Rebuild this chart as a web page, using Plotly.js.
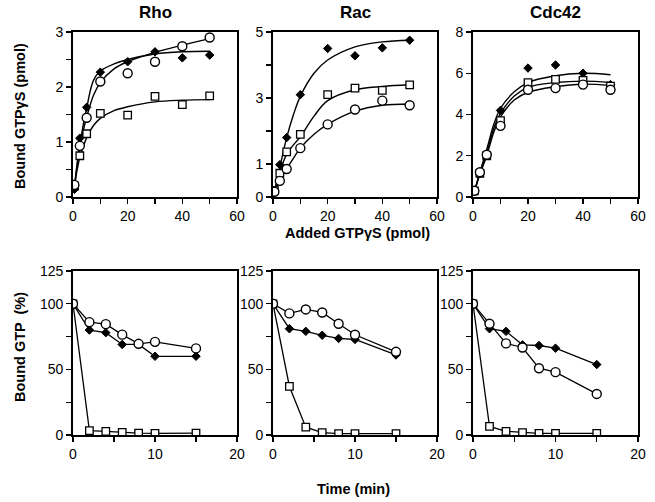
<!DOCTYPE html>
<html>
<head>
<meta charset="utf-8">
<script src="https://cdn.plot.ly/plotly-3.0.1.min.js"></script>
<style>html,body{margin:0;padding:0;background:#fff;}#chart{width:655px;height:502px;}</style>
</head>
<body>
<div id="chart"></div>
<script>
// ---------- data ----------
const panelTitles = ["Rho", "Rac", "Cdc42"];

// Top row: bound GTPγS (pmol) vs added GTPγS (pmol)
const addedX = [0.5, 2.5, 5, 10, 20, 30, 40, 50];
const rhoDiamond = [0.14, 1.07, 1.63, 2.27, 2.46, 2.64, 2.53, 2.58];
const rhoCircle  = [0.22, 0.93, 1.44, 2.10, 2.25, 2.46, 2.74, 2.90];
const rhoSquare  = [0.20, 0.75, 1.15, 1.52, 1.49, 1.83, 1.68, 1.84];
const racDiamond = [0.20, 0.98, 1.80, 3.10, 4.50, 4.28, 4.52, 4.75];
const racSquare  = [0.20, 0.72, 1.37, 1.90, 3.10, 3.30, 3.23, 3.40];
const racCircle  = [0.16, 0.49, 0.85, 1.48, 2.20, 2.65, 2.92, 2.78];
const cdcDiamond = [0.30, 1.15, 2.05, 4.20, 6.25, 6.40, 6.00, 5.45];
const cdcSquare  = [0.30, 1.15, 2.00, 3.70, 5.55, 5.70, 5.65, 5.38];
const cdcCircle  = [0.30, 1.20, 2.05, 3.45, 5.20, 5.28, 5.45, 5.20];

// fitted curves
const curveX = [0.5, 2.5, 5, 7.5, 10, 15, 20, 30, 40, 50];
const rhoDiamondFit = [0.12, 0.95, 1.62, 2.12, 2.29, 2.42, 2.50, 2.60, 2.64, 2.65];
const rhoCircleFit  = [0.20, 0.92, 1.45, 1.85, 2.08, 2.33, 2.46, 2.63, 2.76, 2.88];
const rhoSquareFit  = [0.20, 0.72, 1.08, 1.30, 1.43, 1.57, 1.64, 1.73, 1.76, 1.77];
const racDiamondFit = [0.15, 0.90, 1.80, 2.50, 3.05, 3.75, 4.15, 4.55, 4.70, 4.75];
const racSquareFit  = [0.15, 0.75, 1.30, 1.58, 1.82, 2.45, 2.92, 3.25, 3.35, 3.40];
const racCircleFit  = [0.15, 0.50, 0.85, 1.18, 1.48, 1.90, 2.20, 2.60, 2.78, 2.82];
const cdcDiamondFit = [0.25, 1.20, 2.30, 3.50, 4.30, 5.10, 5.55, 5.88, 6.00, 5.93];
const cdcSquareFit  = [0.25, 1.15, 2.12, 3.30, 4.05, 4.90, 5.32, 5.55, 5.62, 5.56];
const cdcCircleFit  = [0.25, 1.10, 2.00, 3.12, 3.88, 4.70, 5.08, 5.35, 5.47, 5.40];

// Bottom row: bound GTP (%) vs time (min)
const timeX = [0, 2, 4, 6, 8, 10, 15];
const rhoTDiamond = [100, 80, 78, 69, 69, 60, 60];
const rhoTCircle  = [100, 86, 84.5, 76.5, 69.5, 71, 66];
const rhoTSquare  = [100, 3.3, 2.8, 2, 1.5, 1.3, 1.5];
const racTDiamond = [100, 81, 79, 76, 73.6, 72.8, 61];
const racTCircle  = [100, 92.7, 95.7, 93.4, 84.8, 76.4, 63.4];
const racTSquare  = [100, 37, 6, 1.8, 1, 1, 1];
const cdcTDiamond = [100, 81, 79, 68.7, 68.2, 66.2, 53.7];
const cdcTCircle  = [100, 84.8, 69.8, 66.7, 50.9, 47.9, 31.3];
const cdcTSquare  = [100, 6.5, 2.8, 1.8, 1.3, 1.3, 1.3];

// tick values / labels
const topXTicks = [0, 10, 20, 30, 40, 50, 60];
const topXLabels = ["0", "", "20", "", "40", "", "60"];
const rhoYTicks = [0, 0.5, 1, 1.5, 2, 2.5, 3];
const rhoYLabels = ["0", "", "1", "", "2", "", "3"];
const racYTicks = [0, 1, 2, 3, 4, 5];
const racYLabels = ["0", "1", "", "3", "", "5"];
const cdcYTicks = [0, 2, 4, 6, 8];
const cdcYLabels = ["0", "2", "4", "6", "8"];
const botXTicks = [0, 5, 10, 15, 20];
const botXLabels = ["0", "", "10", "", "20"];
const botYTicks = [0, 25, 50, 75, 100, 125];
const botYLabels = ["0", "", "50", "", "100", "125"];

// ---------- styling helpers ----------
const W = 655, H = 502;
const FONT = "Liberation Sans, Arial, sans-serif";
const px = v => v / W;
const py = v => 1 - v / H;

const mk = {
  diamond: {symbol: "diamond", size: 6.5, color: "#000", line: {color: "#000", width: 1}},
  circle:  {symbol: "circle", size: 9, color: "#fff", line: {color: "#000", width: 1.4}},
  square:  {symbol: "square", size: 7.5, color: "#fff", line: {color: "#000", width: 1.3}}
};

const traces = [];
function fit(xa, ya, ys) {
  traces.push({x: curveX, y: ys, xaxis: xa, yaxis: ya, mode: "lines",
    line: {color: "#000", width: 1.4, shape: "spline", smoothing: 1}, hoverinfo: "skip"});
}
function pts(xa, ya, xs, ys, m) {
  traces.push({x: xs, y: ys, xaxis: xa, yaxis: ya, mode: "markers", marker: m});
}
function conn(xa, ya, xs, ys, m) {
  traces.push({x: xs, y: ys, xaxis: xa, yaxis: ya, mode: "lines+markers",
    line: {color: "#000", width: 1.3}, marker: m});
}

// top row
fit("x", "y", rhoSquareFit); fit("x", "y", rhoCircleFit); fit("x", "y", rhoDiamondFit);
pts("x", "y", addedX, rhoSquare, mk.square);
pts("x", "y", addedX, rhoDiamond, mk.diamond);
pts("x", "y", addedX, rhoCircle, mk.circle);

fit("x2", "y2", racCircleFit); fit("x2", "y2", racSquareFit); fit("x2", "y2", racDiamondFit);
pts("x2", "y2", addedX, racDiamond, mk.diamond);
pts("x2", "y2", addedX, racSquare, mk.square);
pts("x2", "y2", addedX, racCircle, mk.circle);

fit("x3", "y3", cdcCircleFit); fit("x3", "y3", cdcSquareFit); fit("x3", "y3", cdcDiamondFit);
pts("x3", "y3", addedX, cdcDiamond, mk.diamond);
pts("x3", "y3", addedX, cdcSquare, mk.square);
pts("x3", "y3", addedX, cdcCircle, mk.circle);

// bottom row
conn("x4", "y4", timeX, rhoTSquare, mk.square);
conn("x4", "y4", timeX, rhoTDiamond, mk.diamond);
conn("x4", "y4", timeX, rhoTCircle, mk.circle);
conn("x5", "y5", timeX, racTSquare, mk.square);
conn("x5", "y5", timeX, racTDiamond, mk.diamond);
conn("x5", "y5", timeX, racTCircle, mk.circle);
conn("x6", "y6", timeX, cdcTSquare, mk.square);
conn("x6", "y6", timeX, cdcTDiamond, mk.diamond);
conn("x6", "y6", timeX, cdcTCircle, mk.circle);

const cols = [[73, 237], [273, 437], [473, 638]];
const rows = [[32, 197], [271, 435]];

function ax(domain, range, tv, tt, anchor) {
  return {domain: domain, range: range, anchor: anchor, tickmode: "array",
    tickvals: tv, ticktext: tt, showline: true, mirror: true, linecolor: "#000",
    linewidth: 1.8, ticks: "outside", ticklen: 5, tickwidth: 1.3, tickcolor: "#000",
    showgrid: false, zeroline: false, fixedrange: true,
    tickfont: {family: FONT, size: 14, color: "#000"}};
}
const layout = {
  width: W, height: H, margin: {l: 0, r: 0, t: 0, b: 0},
  paper_bgcolor: "#fff", plot_bgcolor: "#fff", showlegend: false,
  font: {family: FONT, color: "#000"},
  annotations: []
};
const topY = [[rhoYTicks, rhoYLabels, [0, 3]], [racYTicks, racYLabels, [0, 5]], [cdcYTicks, cdcYLabels, [0, 8]]];
for (let i = 0; i < 3; i++) {
  const xd = [px(cols[i][0]), px(cols[i][1])];
  const sfxT = i === 0 ? "" : String(i + 1);
  const sfxB = String(i + 4);
  layout["xaxis" + sfxT] = ax(xd, [0, 60], topXTicks, topXLabels, "y" + sfxT);
  layout["yaxis" + sfxT] = ax([py(rows[0][1]), py(rows[0][0])], topY[i][2], topY[i][0], topY[i][1], "x" + sfxT);
  layout["xaxis" + sfxB] = ax(xd, [0, 20], botXTicks, botXLabels, "y" + sfxB);
  layout["yaxis" + sfxB] = ax([py(rows[1][1]), py(rows[1][0])], [0, 125], botYTicks, botYLabels, "x" + sfxB);
  layout.annotations.push({text: "<b>" + panelTitles[i] + "</b>", xref: "paper", yref: "paper",
    x: px((cols[i][0] + cols[i][1]) / 2), y: py(13), showarrow: false,
    xanchor: "center", yanchor: "middle", font: {family: FONT, size: 17, color: "#000"}});
}
const lab = (t, x, y, ang) => ({text: "<b>" + t + "</b>", xref: "paper", yref: "paper",
  x: px(x), y: py(y), showarrow: false, xanchor: "center", yanchor: "middle", textangle: ang,
  font: {family: FONT, size: 14.5, color: "#000"}});
layout.annotations.push(lab("Bound GTPγS (pmol)", 20, 116, -90));
layout.annotations.push(lab("Added GTPγS (pmol)", 357, 233, 0));
layout.annotations.push(lab("Bound GTP  (%)", 20, 347, -90));
layout.annotations.push(lab("Time (min)", 354, 489, 0));

Plotly.newPlot("chart", traces, layout, {displayModeBar: false, staticPlot: true});
</script>
</body>
</html>
